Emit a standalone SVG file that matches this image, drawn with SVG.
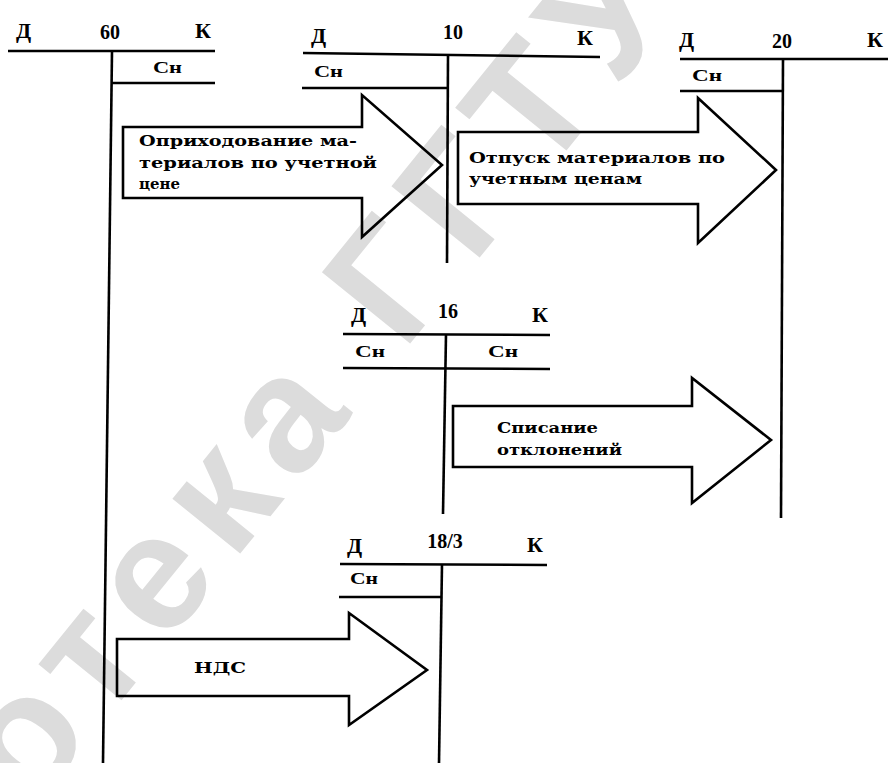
<svg xmlns="http://www.w3.org/2000/svg" width="888" height="763" viewBox="0 0 888 763">
<style>
.ln{stroke:#000;stroke-width:2.6;fill:none;stroke-linecap:butt}
.ar{stroke:#000;stroke-width:2.6;fill:none;stroke-linejoin:miter}
.hd{font-family:"Liberation Serif",serif;font-weight:bold;font-size:22px;fill:#000}
.num{font-family:"Liberation Serif",serif;font-weight:bold;font-size:20px;fill:#000}
.sn{font-family:"Liberation Serif",serif;font-weight:bold;font-size:16px;fill:#000}
.tx{font-family:"DejaVu Serif",serif;font-weight:bold;font-size:14px;fill:#000}
.wm{font-family:"Liberation Sans",sans-serif;font-weight:bold;font-size:165px;fill:#dcdcdc}
</style>
<rect width="888" height="763" fill="#fff"/>
<g id="watermark">
<text class="wm" transform="translate(231,565) rotate(-51)" x="-925" y="0" textLength="1640" lengthAdjust="spacing">Библиотека ГГТУ</text>
</g>
<g id="acc60">
<text class="hd" x="16" y="38">Д</text>
<text class="num" x="110" y="39" text-anchor="middle">60</text>
<text class="hd" x="195" y="38">К</text>
<line class="ln" x1="8" y1="51" x2="215" y2="51"/>
<line class="ln" x1="112" y1="51" x2="103" y2="763"/>
<text class="sn" x="153" y="73" textLength="29" lengthAdjust="spacingAndGlyphs">Сн</text>
<line class="ln" x1="112" y1="83" x2="215" y2="83"/>
</g>
<g id="acc10">
<text class="hd" x="311" y="43">Д</text>
<text class="num" x="453" y="39" text-anchor="middle">10</text>
<text class="hd" x="577" y="45">К</text>
<line class="ln" x1="303" y1="53" x2="600" y2="57"/>
<line class="ln" x1="448" y1="55" x2="447" y2="263"/>
<text class="sn" x="314" y="77" textLength="29" lengthAdjust="spacingAndGlyphs">Сн</text>
<line class="ln" x1="302" y1="88" x2="448" y2="88"/>
</g>
<g id="acc20">
<text class="hd" x="679" y="47">Д</text>
<text class="num" x="782" y="48" text-anchor="middle">20</text>
<text class="hd" x="867" y="47">К</text>
<line class="ln" x1="680" y1="59" x2="888" y2="59"/>
<line class="ln" x1="783" y1="59" x2="781" y2="518"/>
<text class="sn" x="692" y="81" textLength="30" lengthAdjust="spacingAndGlyphs">Сн</text>
<line class="ln" x1="680" y1="91" x2="783" y2="91"/>
</g>
<g id="acc16">
<text class="hd" x="351" y="322">Д</text>
<text class="num" x="448" y="318" text-anchor="middle">16</text>
<text class="hd" x="532" y="322">К</text>
<line class="ln" x1="343" y1="334" x2="550" y2="335"/>
<line class="ln" x1="446" y1="334" x2="443" y2="514"/>
<text class="sn" x="355" y="357" textLength="30" lengthAdjust="spacingAndGlyphs">Сн</text>
<text class="sn" x="488" y="357" textLength="30" lengthAdjust="spacingAndGlyphs">Сн</text>
<line class="ln" x1="343" y1="368" x2="550" y2="369"/>
</g>
<g id="acc18_3">
<text class="hd" x="347" y="553">Д</text>
<text class="num" x="445" y="548" text-anchor="middle">18/3</text>
<text class="hd" x="527" y="552">К</text>
<line class="ln" x1="340" y1="564" x2="547" y2="565"/>
<line class="ln" x1="442" y1="564" x2="439" y2="763"/>
<text class="sn" x="350" y="584" textLength="28" lengthAdjust="spacingAndGlyphs">Сн</text>
<line class="ln" x1="339" y1="597" x2="442" y2="597"/>
</g>
<g id="connectors">
<g id="arrow1">
<polygon class="ar" points="123,127 362,127 362,95 442,165 362,237 362,198 123,198"/>
<text class="tx" x="139" y="146" textLength="218" lengthAdjust="spacingAndGlyphs">Оприходование ма-</text>
<text class="tx" x="139" y="168" textLength="238" lengthAdjust="spacingAndGlyphs">териалов по учетной</text>
<text class="tx" x="139" y="189" textLength="41" lengthAdjust="spacingAndGlyphs">цене</text>
</g>
<g id="arrow2">
<polygon class="ar" points="458,132 698,132 698,98 776,170 698,243 698,204 458,204"/>
<text class="tx" x="469" y="163" textLength="256" lengthAdjust="spacingAndGlyphs">Отпуск материалов по</text>
<text class="tx" x="469" y="184" textLength="173" lengthAdjust="spacingAndGlyphs">учетным ценам</text>
</g>
<g id="arrow3">
<polygon class="ar" points="453,406 692,406 692,378 771,440 692,503 692,467 453,467"/>
<text class="tx" x="497" y="433" textLength="101" lengthAdjust="spacingAndGlyphs">Списание</text>
<text class="tx" x="497" y="455" textLength="125" lengthAdjust="spacingAndGlyphs">отклонений</text>
</g>
<g id="arrow4">
<polygon class="ar" points="117,639 349,639 349,613 427,670 349,725 349,696 117,696"/>
<text class="tx" x="194" y="673" textLength="52" lengthAdjust="spacingAndGlyphs">НДС</text>
</g>
</g>
</svg>
